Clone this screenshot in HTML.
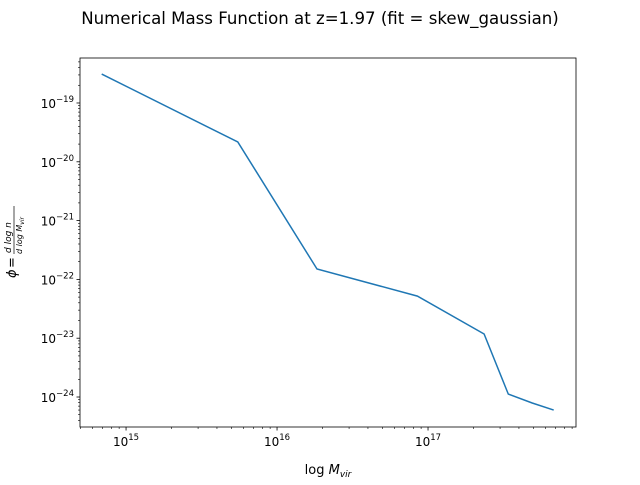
<!DOCTYPE html>
<html><head><meta charset="utf-8"><style>
body{margin:0;background:#fff;}
svg text{font-family:"DejaVu Sans","Liberation Sans",sans-serif;}
</style></head><body>
<svg width="640" height="480" viewBox="0 0 640 480">
<rect width="640" height="480" fill="#fff"/>
<text x="320" y="24" text-anchor="middle" font-size="16.6">Numerical Mass Function at z=1.97 (fit = skew_gaussian)</text>
<g id="axes"></g>
<path id="line" fill="none" stroke="#1f77b4" stroke-width="1.5"/>
<rect x="80" y="58" width="496" height="369" fill="none" stroke="#000" stroke-width="0.8"/>
<text x="328" y="474" text-anchor="middle" font-size="13">log <tspan font-style="italic">M</tspan><tspan font-size="9" font-style="italic" dy="3">vir</tspan></text>
<g transform="translate(16,242) rotate(-90)">
<text x="-36" y="0" font-size="13" font-style="italic">ϕ</text>
<text x="-26" y="0" font-size="13">=</text>
<text x="-11" y="-5" font-size="9" font-style="italic">d log n</text>
<line x1="-12" y1="-2" x2="36" y2="-2" stroke="#000" stroke-width="0.7"/>
<text x="-12" y="6" font-size="8" font-style="italic">d log M<tspan font-size="6" dy="2">vir</tspan></text>
</g>
</svg>
<script>
const xValues=[6.9e14,5.5e15,1.84e16,8.5e16,2.35e17,3.4e17,4.9e17,6.8e17];
const yValues=[3.1e-19,2.17e-20,1.5e-22,5.2e-23,1.18e-23,1.12e-24,7.9e-25,6.0e-25];
const xTickExps=[15,16,17];
const yTickExps=[-19,-20,-21,-22,-23,-24];
const X0=80,X1=576,Y0=58,Y1=427;
const xMin=14.695,xMax=17.980,yMin=-24.510,yMax=-18.235;
function sx(v){return X0+(Math.log10(v)-xMin)/(xMax-xMin)*(X1-X0);}
function sy(v){return Y1-(Math.log10(v)-yMin)/(yMax-yMin)*(Y1-Y0);}
const NS="http://www.w3.org/2000/svg";
const g=document.getElementById('axes');
function mk(t,a){const e=document.createElementNS(NS,t);for(const k in a)e.setAttribute(k,a[k]);g.appendChild(e);return e;}
for(let d=14;d<=17;d++)for(let m=1;m<10;m++){const v=m*Math.pow(10,d);const lx=Math.log10(v);if(lx<xMin||lx>xMax)continue;const x=sx(v);
const t=mk('line',{x1:x,x2:x,y1:Y1,y2:Y1+(m==1?3.5:2),stroke:'#000','stroke-width':m==1?0.8:0.6});

}
for(let d=-25;d<=-19;d++)for(let m=1;m<10;m++){const v=m*Math.pow(10,d);const ly=Math.log10(v);if(ly<yMin||ly>yMax)continue;const y=sy(v);
const t=mk('line',{x1:X0,x2:X0-(m==1?3.5:2),y1:y,y2:y,stroke:'#000','stroke-width':m==1?0.8:0.6});

}
xTickExps.forEach(e=>{const x=sx(Math.pow(10,e));const t=mk('text',{x:x,y:Y1+19,'text-anchor':'middle','font-size':'12'});
t.innerHTML='10<tspan font-size="8.5" dy="-6">'+e+'</tspan>';

});
yTickExps.forEach(e=>{const y=sy(Math.pow(10,e));const t=mk('text',{x:X0-6,y:y+5,'text-anchor':'end','font-size':'12'});
t.innerHTML='10<tspan font-size="8.5" dy="-6">\u2212'+(-e)+'</tspan>';

});
document.getElementById('line').setAttribute('d',xValues.map((v,i)=>(i?'L':'M')+sx(v).toFixed(1)+' '+sy(yValues[i]).toFixed(1)).join(' '));
</script>
</body></html>
